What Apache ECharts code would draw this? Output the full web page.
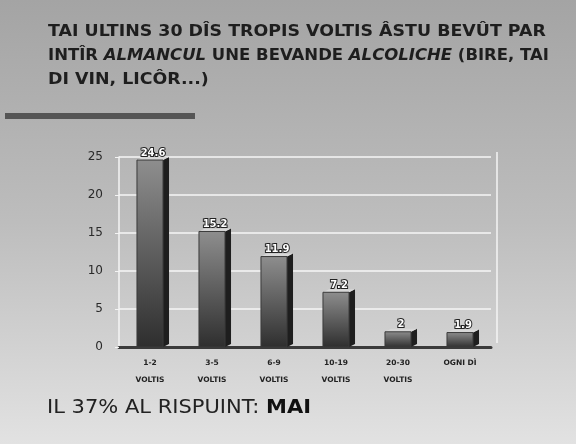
<!DOCTYPE html>
<html>
<head>
<meta charset="utf-8">
<script src="https://cdn.jsdelivr.net/npm/echarts@6/dist/echarts.min.js"></script>
<style>
  html, body { margin: 0; padding: 0; }
  #chart { width: 576px; height: 444px; }
</style>
</head>
<body>
<div id="chart"></div>
<script>
// categories and values
const categories = ['1-2\nVOLTIS', '3-5\nVOLTIS', '6-9\nVOLTIS', '10-19\nVOLTIS', '20-30\nVOLTIS', 'OGNI DÌ']
const values = [24.6, 15.2, 11.9, 7.2, 2, 1.9]
const valueLabels = ['24.6', '15.2', '11.9', '7.2', '2', '1.9']

const chart = echarts.init(document.getElementById('chart'))

const titleRich = {
  n: { font: 'bold 15px "DejaVu Sans"', fill: '#1e1e1e' },
  i: { font: 'italic bold 15px "DejaVu Sans"', fill: '#1e1e1e' }
}

// barra 3D: faccia davanti + lato + cima
function renderBar(params, api) {
  const idx = api.value(0)
  const val = api.value(1)
  const top = api.coord([idx, val])
  const base = api.coord([idx, 0])
  const band = api.size([1, 0])[0]
  const w = band * 0.42
  const d = 6
  const x0 = top[0] - w / 2
  const x1 = top[0] + w / 2
  return {
    type: 'group',
    children: [
      {
        type: 'polygon',
        shape: { points: [[x1, top[1]], [x1 + d, top[1] - 3], [x1 + d, base[1] - 3], [x1, base[1]]] },
        style: { fill: '#1e1e1e' }
      },
      {
        type: 'polygon',
        shape: { points: [[x0, top[1]], [x0 + d, top[1] - 3], [x1 + d, top[1] - 3], [x1, top[1]]] },
        style: { fill: '#d8d8d8' }
      },
      {
        type: 'rect',
        shape: { x: x0, y: top[1], width: w, height: base[1] - top[1] },
        style: {
          fill: new echarts.graphic.LinearGradient(0, 0, 0, 1, [
            { offset: 0, color: '#8e8e8e' },
            { offset: 1, color: '#2e2e2e' }
          ]),
          stroke: '#3a3a3a',
          lineWidth: 1
        }
      },
      {
        type: 'text',
        x: top[0] + 3,
        y: top[1] - 2,
        style: {
          text: valueLabels[idx],
          fill: '#ffffff',
          stroke: '#222',
          lineWidth: 2,
          font: 'bold 10px "DejaVu Sans"',
          align: 'center',
          verticalAlign: 'bottom'
        }
      }
    ]
  }
}

chart.setOption({
  backgroundColor: new echarts.graphic.LinearGradient(0, 0, 0, 1, [
    { offset: 0, color: '#a4a4a4' },
    { offset: 0.5, color: '#bdbdbd' },
    { offset: 1, color: '#e2e2e2' }
  ]),
  textStyle: { fontFamily: '"DejaVu Sans"' },
  graphic: [
    {
      type: 'text',
      x: 48,
      y: 25,
      scaleX: 1.16,
      style: { rich: titleRich, text: '{n|TAI ULTINS 30 DÎS TROPIS VOLTIS ÂSTU BEVÛT PAR}' }
    },
    {
      type: 'text',
      x: 48,
      y: 49,
      scaleX: 1.1,
      style: {
        rich: titleRich,
        text: '{n|INTÎR }{i|ALMANCUL}{n| UNE BEVANDE }{i|ALCOLICHE}{n| (BIRE, TAI}'
      }
    },
    {
      type: 'text',
      x: 48,
      y: 73,
      scaleX: 1.16,
      style: { rich: titleRich, text: '{n|DI VIN, LICÔR...)}' }
    },
    {
      type: 'rect',
      shape: { x: 5, y: 113, width: 190, height: 6 },
      style: { fill: '#555' }
    },
    {
      type: 'text',
      x: 47,
      y: 398,
      scaleX: 1.05,
      style: {
        rich: {
          n: { font: '20px "DejaVu Sans"', fill: '#222' },
          b: { font: 'bold 20px "DejaVu Sans"', fill: '#111' }
        },
        text: '{n|IL 37% AL RISPUINT: }{b|MAI}'
      }
    },
    {
      type: 'line',
      shape: { x1: 497, y1: 152, x2: 497, y2: 343 },
      style: { stroke: '#f4f4f4', lineWidth: 1.5 }
    }
  ],
  grid: { left: 119, right: 85, top: 157, bottom: 97 },
  xAxis: {
    type: 'category',
    data: categories,
    axisLine: { lineStyle: { color: '#3a3a3a', width: 3 } },
    axisTick: { show: false },
    axisLabel: {
      color: '#222',
      fontSize: 7.5,
      fontWeight: 'bold',
      lineHeight: 17,
      margin: 8
    }
  },
  yAxis: {
    type: 'value',
    min: 0,
    max: 25,
    interval: 5,
    axisLine: { show: true, lineStyle: { color: '#f4f4f4', width: 1.5 } },
    axisTick: { show: true, length: 4, lineStyle: { color: '#f4f4f4' } },
    axisLabel: { color: '#2a2a2a', fontSize: 12, margin: 16 },
    splitLine: { lineStyle: { color: '#f6f6f6', width: 1.5 } }
  },
  series: [
    {
      type: 'custom',
      renderItem: renderBar,
      encode: { x: 0, y: 1 },
      data: values.map((v, i) => [i, v]),
      z: 3
    }
  ]
})
</script>
</body>
</html>
